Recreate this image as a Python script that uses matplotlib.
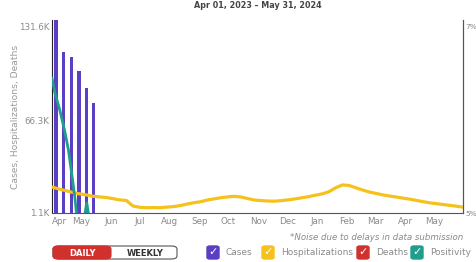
import numpy as np
import pandas as pd
import matplotlib
matplotlib.use("Agg")
import matplotlib.pyplot as plt
from matplotlib.patches import FancyBboxPatch

W, H = 477, 262

# weekly case bars (thousands)
case_dates = ["2023-04-05", "2023-04-13", "2023-04-21", "2023-04-29", "2023-05-07", "2023-05-14"]
case_vals = [142.0, 114.0, 110.5, 100.7, 88.8, 78.4]

# hospitalizations (thousands)
hosp_vals = [19.3, 18.0, 16.8, 15.6, 14.6, 13.9, 12.9, 12.4, 12.0, 11.2,
             10.3, 9.9, 6.0, 5.1, 4.8, 4.9, 4.8, 5.2, 5.6, 6.3,
             7.4, 8.3, 9.0, 10.2, 11.0, 11.8, 12.4, 12.8, 12.3, 11.2,
             10.2, 9.8, 9.5, 9.4, 9.8, 10.3, 11.0, 11.8, 12.6, 13.6,
             14.5, 16.0, 18.8, 20.8, 20.4, 18.8, 17.2, 15.8, 14.8, 13.8,
             13.0, 12.3, 11.5, 10.8, 9.9, 9.0, 8.2, 7.6, 7.0, 6.4,
             5.8, 5.2]
hosp_dates = list(pd.date_range("2023-04-01", "2024-05-25", freq="7D")) + [pd.Timestamp("2024-05-31")]

# positivity (%)
pos_dates = ["2023-04-01", "2023-04-04", "2023-04-06", "2023-04-09", "2023-04-14",
             "2023-04-18", "2023-04-22", "2023-04-25", "2023-04-27", "2023-05-01",
             "2023-05-04", "2023-05-07", "2023-05-09", "2023-05-12", "2023-05-20"]
pos_vals = [6.45, 6.29, 6.22, 6.11, 5.89, 5.68, 5.38, 5.14, 4.92, 4.70,
            4.92, 5.11, 4.98, 4.70, 4.50]

ylim_left = (1.1, 136.5)
ylim_right = (5.0, 7.075)
left_ticks = [1.1, 66.3, 131.6]
left_labels = ["1.1K", "66.3K", "131.6K"]

purple = "#5a3ec4"
yellow = "#f5c21b"
red = "#d0312d"
teal = "#1f9e8e"
grey = "#8a8a8a"

def fx(x):
    return x / W

def fy(y):
    return 1 - y / H

fig = plt.figure(figsize=(W / 100, H / 100), dpi=100)
ax = fig.add_axes([fx(52), fy(213), (463 - 52) / W, (213 - 20) / H])

cd = pd.to_datetime(case_dates)
ax.bar(cd, case_vals, width=3.6, color=purple, zorder=2)
ax.plot(hosp_dates, hosp_vals, color=yellow, lw=2.3, zorder=3, solid_joinstyle="round")

ax.set_ylim(*ylim_left)
ax.set_xlim(pd.Timestamp("2023-04-01"), pd.Timestamp("2024-05-31"))
ax.set_yticks(left_ticks)
ax.set_yticklabels(left_labels)
ax.tick_params(axis="y", length=0, pad=2, labelsize=6.3, labelcolor=grey)

months = pd.date_range("2023-04-01", "2024-05-01", freq="MS")
ax.set_xticks(months)
ax.set_xticklabels([m.strftime("%b") for m in months])
ax.tick_params(axis="x", length=0, pad=3, labelsize=6.3, labelcolor=grey)
ax.get_xticklabels()[0].set_horizontalalignment("left")

ax.spines["top"].set_visible(False)
ax.spines["left"].set_color("#222222")
ax.spines["bottom"].set_color("#555555")
ax.spines["right"].set_color("#555555")

ax2 = ax.twinx()
ax2.plot(pd.to_datetime(pos_dates), pos_vals, color=teal, lw=2.0, zorder=4)
ax2.set_ylim(*ylim_right)
ax2.set_yticks([5, 7])
ax2.set_yticklabels(["5%", "7%"])
ax2.tick_params(axis="y", length=0, pad=1.5, labelsize=5.3, labelcolor=grey)
for s in ["top", "left", "bottom"]:
    ax2.spines[s].set_visible(False)
ax2.spines["right"].set_color("#555555")

ax.set_ylabel("Cases, Hospitalizations, Deaths", fontsize=6.6, color="#999999")
ax.yaxis.set_label_coords(-32 / 411, 0.5)

fig.text(fx(258), fy(5), "Apr 01, 2023 \u2013 May 31, 2024", ha="center", va="center",
         fontsize=5.8, color="#444444", fontweight="bold")
fig.text(fx(463), fy(237), "*Noise due to delays in data submission", ha="right", va="center",
         fontsize=6.2, color=grey, style="italic")

# daily / weekly toggle
fig.patches.append(FancyBboxPatch((fx(53), fy(259)), fx(124), (259 - 246) / H,
                                  boxstyle="round,pad=0,rounding_size=0.012",
                                  transform=fig.transFigure, facecolor="white",
                                  edgecolor="#555555", lw=0.8))
fig.patches.append(FancyBboxPatch((fx(53), fy(259)), fx(58), (259 - 246) / H,
                                  boxstyle="round,pad=0,rounding_size=0.012",
                                  transform=fig.transFigure, facecolor=red,
                                  edgecolor=red, lw=0.8))
fig.text(fx(83), fy(253), "DAILY", ha="center", va="center", fontsize=6,
         color="white", fontweight="bold")
fig.text(fx(145), fy(253), "WEEKLY", ha="center", va="center", fontsize=6,
         color="#333333", fontweight="bold")

legend_items = [("Cases", purple, 207), ("Hospitalizations", yellow, 262),
                ("Deaths", red, 357), ("Positivity", teal, 411)]
for name, col, x0 in legend_items:
    fig.patches.append(FancyBboxPatch((fx(x0), fy(259)), fx(12), 13 / H,
                                      boxstyle="round,pad=0,rounding_size=0.006",
                                      transform=fig.transFigure, facecolor=col,
                                      edgecolor=col))
    fig.text(fx(x0 + 6), fy(252.5), "\u2713", ha="center", va="center",
             fontsize=8, color="white", fontweight="bold")
    fig.text(fx(x0 + 19), fy(252.5), name, ha="left", va="center",
             fontsize=6.5, color=grey)

fig.savefig("out.png", dpi=100)
